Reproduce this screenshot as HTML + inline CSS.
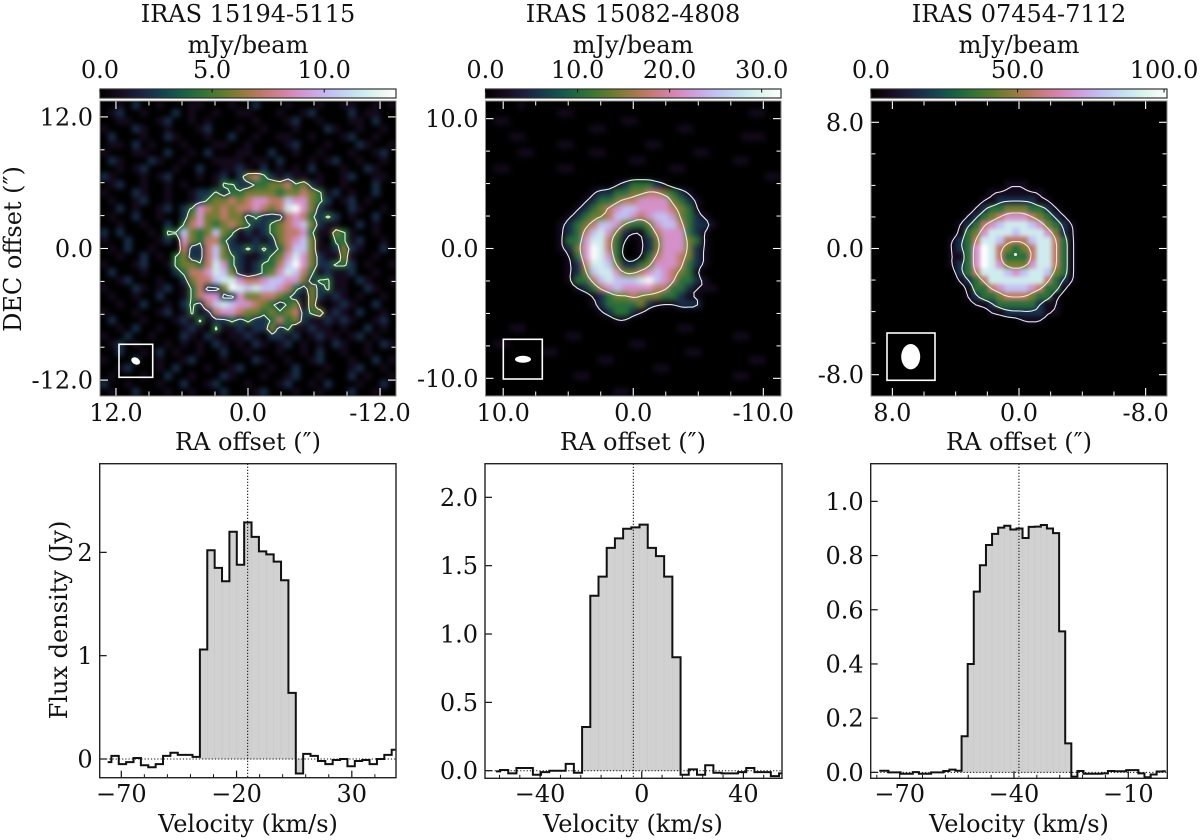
<!DOCTYPE html>
<html lang="en">
<head>
<meta charset="utf-8">
<title>IRAS ring maps and spectra</title>
<style>
html,body{margin:0;padding:0;background:#fff;width:1200px;height:840px;overflow:hidden}
svg{display:block}
text{font-family:"DejaVu Serif","Liberation Serif",serif;font-size:24px;fill:#111}
</style>
</head>
<body>
<svg id="fig" xmlns="http://www.w3.org/2000/svg" width="1200" height="840" viewBox="0 0 1200 840">
<defs>
<linearGradient id="helixGradient" x1="0" x2="1" y1="0" y2="0"></linearGradient>
<filter id="soften1" x="-5%" y="-5%" width="110%" height="110%" color-interpolation-filters="sRGB"><feGaussianBlur stdDeviation="2.6"/></filter>
<filter id="soften2" x="-5%" y="-5%" width="110%" height="110%" color-interpolation-filters="sRGB"><feGaussianBlur stdDeviation="3"/></filter>
<filter id="soften3" x="-5%" y="-5%" width="110%" height="110%" color-interpolation-filters="sRGB"><feGaussianBlur stdDeviation="2.1"/></filter>
</defs>
<rect width="1200" height="840" fill="#fff"/>
<text x="248" y="22" text-anchor="middle">IRAS 15194-5115</text>
<text x="633" y="22" text-anchor="middle">IRAS 15082-4808</text>
<text x="1019" y="22" text-anchor="middle">IRAS 07454-7112</text>
<text x="248" y="53" text-anchor="middle">mJy/beam</text>
<text x="633" y="53" text-anchor="middle">mJy/beam</text>
<text x="1019" y="53" text-anchor="middle">mJy/beam</text>
<text transform="translate(21,249) rotate(-90)" text-anchor="middle">DEC offset (″)</text>
<text x="248" y="450" text-anchor="middle">RA offset (″)</text>
<text x="633" y="450" text-anchor="middle">RA offset (″)</text>
<text x="1019" y="450" text-anchor="middle">RA offset (″)</text>
<text transform="translate(67,620) rotate(-90)" text-anchor="middle">Flux density (Jy)</text>
<text x="248" y="832" text-anchor="middle">Velocity (km/s)</text>
<text x="633" y="832" text-anchor="middle">Velocity (km/s)</text>
<text x="1019" y="832" text-anchor="middle">Velocity (km/s)</text>
<g id="layer"></g>
</svg>
<script>
// ---------- map data: brightness, one digit per cell (0 black .. 9 white) ----------
const heat1Rows = [
"0010200100011000100200010001001100101",
"0120010002010010011000100120000201100",
"0011000120010100000100012001000110200",
"1000210010001200010010001000210010010",
"0200010021000100200100110010001200100",
"0110201000100011001000012000100021001",
"1000110020010200011002001001000100120",
"0210002100100011110110200010120010010",
"0010120001002001121020101020001002100",
"2100010120001012024532121101001200110",
"0120010010100013322334453421001000200",
"1000210010012232334444344543120100200",
"0100120010012344545665576643201201000",
"0020100120236545455654589642100210010",
"0100200100246445442322256532320100200",
"0010010020356434543223456742110020100",
"2020001033743474312123455631143100100",
"1002000120643553211212456741033120010",
"0102001000522574223232357741124210020",
"0010020103422574321123468642114100100",
"1000120013443586321233579642233201001",
"0200010002355687421234687531211200100",
"0012000100245578865567766423311021001",
"1000210120135224987877653242311002100",
"0100100200135662264455432142121010010",
"0010020010232578766543234141012100200",
"1000100120131256654434345234121020010",
"0200010001213122323223534211212100120",
"0010200100121031121224231121101002010",
"1002001000210210112102212012110120100",
"0120100010101021010210120101021001021",
"0020010201001002001000100102001001000",
"1000200100120001000210010012000100201",
"0012000102000100120001002000100120010",
"0100010020010002100010012001000201001",
"2001000100200120001000120010200010020",
"0100200010010002000120001001000200100"
];
const heat2Rows = [
"0000100000000000000000000000000000000",
"0000000001100000000000000000000001100",
"0110000000000000011000000000000000000",
"0000000000000110000000001100000000000",
"0001100000000000000000000000000011100",
"0000000001100000000011000000000000000",
"0000110000000110000000000011000000000",
"0000000000000000001100000000000110000",
"0110000001100000000000011000000000000",
"0000000000000000000000000000000000011",
"0000000000000000123332100000000000000",
"0000000000000122334455432100000000000",
"0000000000001233455666643210000000000",
"0000000000012345677666654310000000000",
"0000000000123445776567764321000000000",
"0000000001234577643346775322100000000",
"0000000001235786421135666321000000000",
"0000000001336885310124666431000000000",
"0000000001246985300124666421000000000",
"0000000000136986300135665421000000000",
"0000000000125887422346665321000000000",
"0000000000124788644567654310000000000",
"0000000000133578777897653321000000000",
"0000000000012356766665533211100000000",
"0000000000000123445444332110000000000",
"0000000000000123333421112220000000000",
"0000000000000012332100000000000000000",
"0000000000000000110000000000000000000",
"0001100000000000000000001100000000000",
"0000000000110000000000000000000110000",
"0110000000000000001100000000000000000",
"0000000110000000000000000110000000000",
"0000000000000011000000000000000001100",
"0000000000000000000001100000000000000",
"0000000000011000000000000000000110000",
"0000000000000000000000000000000000000",
"0000000000000000110000000000000000000"
];
const heat3Rows = [
"0000000000000000000000000000000000000",
"0000000000000000000000000000000000000",
"0000000000000000000000000000000000000",
"0000000000000000000000000000000000000",
"0000000000000000000000000000000000000",
"0000000000000000000000000000000000000",
"0000000000000000000000000000000000000",
"0000000000000000000000000000000000000",
"0000000000000000000000000000000000000",
"0000000000000000000000000000000000000",
"0000000000000000011100000000000000000",
"0000000000000001111111000000000000000",
"0000000000000011222221100000000000000",
"0000000000000123344433210000000000000",
"0000000000001234566654321000000000000",
"0000000000012356788876432100000000000",
"0000000000013468887888642100000000000",
"0000000000123588755578853100000000000",
"0000000000123698543458853100000000000",
"0000000000113698533358853100000000000",
"0000000000123698644468853100000000000",
"0000000000023588876788743100000000000",
"0000000000012358888888532100000000000",
"0000000000001335677765331000000000000",
"0000000000001233455543310000000000000",
"0000000000000112333332110000000000000",
"0000000000000001122222110000000000000",
"0000000000000000000111000000000000000",
"0000000000000000000000000000000000000",
"0000000000000000000000000000000000000",
"0000000000000000000000000000000000000",
"0000000000000000000000000000000000000",
"0000000000000000000000000000000000000",
"0000000000000000000000000000000000000",
"0000000000000000000000000000000000000",
"0000000000000000000000000000000000000",
"0000000000000000000000000000000000000"
];
const digitIntensity = [0, 0.06, 0.17, 0.33, 0.44, 0.55, 0.67, 0.78, 0.89, 1];
const contour1Levels = [2.75];
const contour2Levels = [1.2, 4.5];
const contour3Levels = [0.9, 2.2, 5];
const contour1Colors = ["#e6f2e2"];
const contour2Colors = ["#e8e8f2", "#ecefc8"];
const contour3Colors = ["#e6e2ee", "#e8ecf4", "#f6e6c4"];

// map axes
const map1XLim = [13.45, -13.45];
const map2XLim = [11.36, -11.36];
const map3XLim = [9.35, -9.35];
const map1Major = [12, 0, -12];
const map1Minor = [9, 6, 3, -3, -6, -9];
const map1XLabels = ["12.0", "0.0", "-12.0"];
const map1YLabels = ["12.0", "0.0", "-12.0"];
const map2Major = [10, 0, -10];
const map2Minor = [7.5, 5, 2.5, -2.5, -5, -7.5];
const map2XLabels = ["10.0", "0.0", "-10.0"];
const map2YLabels = ["10.0", "0.0", "-10.0"];
const map3Major = [8, 0, -8];
const map3Minor = [6, 4, 2, -2, -4, -6];
const map3XLabels = ["8.0", "0.0", "-8.0"];
const map3YLabels = ["8.0", "0.0", "-8.0"];

// colorbars
const bar1Max = 13.2;
const bar2Max = 32.1;
const bar3Max = 101;
const bar1Ticks = [0, 5, 10];
const bar2Ticks = [0, 10, 20, 30];
const bar3Ticks = [0, 50, 100];
const bar1Labels = ["0.0", "5.0", "10.0"];
const bar2Labels = ["0.0", "10.0", "20.0", "30.0"];
const bar3Labels = ["0.0", "50.0", "100.0"];

// ---------- spectra ----------
const spec1Flux = [-0.03,0.03,-0.05,-0.03,0.01,-0.06,-0.08,-0.05,0.03,0.06,0.04,0.04,0.02,1.06,2.02,1.85,1.72,2.2,1.88,2.29,2.15,2.01,1.98,1.91,1.73,0.64,-0.14,0.05,0.03,-0.02,-0.05,-0.01,0,-0.07,-0.02,-0.01,-0.05,0,0.04,0.09];
const spec2Flux = [-0.005,0.005,-0.02,0.02,0.02,-0.03,-0.01,0,0,0.05,-0.015,0.32,1.28,1.42,1.63,1.70,1.77,1.78,1.80,1.63,1.57,1.42,0.83,-0.03,0.01,-0.03,0.04,-0.015,-0.02,-0.02,-0.01,0.02,-0.01,-0.01,-0.04,-0.02];
const spec3Flux = [0.006,0.006,0,0,-0.005,-0.005,0.001,-0.005,-0.005,0,0,0.005,0.01,0.006,0.133,0.40,0.667,0.764,0.839,0.88,0.903,0.91,0.896,0.90,0.865,0.906,0.907,0.913,0.90,0.883,0.52,0.107,-0.016,0.005,-0.005,-0.005,-0.005,-0.004,0.005,0.004,0.004,0.008,0.008,-0.004,-0.018,-0.008,0.003,0.004];
const spec1VelStart = -75.9, spec1VelStep = 3.2;
const spec2VelStart = -57.4, spec2VelStep = 3.23;
const spec3VelStart = -75.35, spec3VelStep = 1.6;
const spec1FillFrom = 13, spec1FillTo = 26;
const spec2FillFrom = 11, spec2FillTo = 22;
const spec3FillFrom = 14, spec3FillTo = 31;
const spec1SystemicVel = -15.2;
const spec2SystemicVel = -3.3;
const spec3SystemicVel = -38.7;
const spec1XLim = [-79.37, 49.17], spec1YLim = [-0.181, 2.858];
const spec2XLim = [-61.7, 55.2], spec2YLim = [-0.0556, 2.246];
const spec3XLim = [-77.6, 0.24], spec3YLim = [-0.022, 1.139];
const spec1XMajor = [-70, -20, 30];
const spec1XLabels = ["\u221270", "\u221220", "30"];
const spec1XMinor = [-60,-50,-40,-30,-10,0,10,20,40];
const spec1YTicks = [0, 1, 2];
const spec1YLabels = ["0", "1", "2"];
const spec2XMajor = [-40, 0, 40];
const spec2XLabels = ["\u221240", "0", "40"];
const spec2XMinor = [-56,-48,-32,-24,-16,-8,8,16,24,32,48];
const spec2YTicks = [0, 0.5, 1, 1.5, 2];
const spec2YLabels = ["0.0", "0.5", "1.0", "1.5", "2.0"];
const spec3XMajor = [-70, -40, -10];
const spec3XLabels = ["\u221270", "\u221240", "\u221210"];
const spec3XMinor = [-76,-64,-58,-52,-46,-34,-28,-22,-16,-4];
const spec3YTicks = [0, 0.2, 0.4, 0.6, 0.8, 1];
const spec3YLabels = ["0.0", "0.2", "0.4", "0.6", "0.8", "1.0"];

// ---------- helpers ----------
const NS = "http://www.w3.org/2000/svg";
const layer = document.getElementById("layer");
function mk(tag, parent) { const e = document.createElementNS(NS, tag); (parent || layer).appendChild(e); return e; }
function linear(d0, d1, r0, r1) { return v => r0 + (v - d0) / (d1 - d0) * (r1 - r0); }
function helix(t) {
  const a = 0.5 * t * (1 - t), phi = 2 * Math.PI * (0.5 / 3 - 1.5 * t), c = Math.cos(phi), s = Math.sin(phi);
  const ch = x => Math.round(255 * Math.min(1, Math.max(0, x)));
  return "rgb(" + ch(t + a * (-0.14861 * c + 1.78277 * s)) + "," + ch(t + a * (-0.29227 * c - 0.90649 * s)) + "," + ch(t + a * 1.97294 * c) + ")";
}
const grad = document.getElementById("helixGradient");
for (let i = 0; i <= 48; i++) {
  const st = document.createElementNS(NS, "stop");
  st.setAttribute("offset", (i / 48).toFixed(4));
  st.setAttribute("stop-color", helix(i / 48));
  grad.appendChild(st);
}
function digit(rows, r, c) { const v = rows[r].charCodeAt(c) - 48; return v >= 0 && v <= 9 ? v : 0; }

function refineGrid(rows, smooth) {
  // bilinear upsample x2, optionally followed by a box smooth so contours read as curves
  const R = rows.length, C = rows[0].length, up = [];
  for (let r = 0; r < 2 * R - 1; r++) {
    const line = [];
    for (let c = 0; c < 2 * C - 1; c++) {
      const r0 = r >> 1, r1 = (r + 1) >> 1, c0 = c >> 1, c1 = (c + 1) >> 1;
      line.push((digit(rows, r0, c0) + digit(rows, r0, c1) + digit(rows, r1, c0) + digit(rows, r1, c1)) / 4);
    }
    up.push(line);
  }
  if (!smooth) return up;
  return up.map((line, r) => line.map((_, c) => {
    let s = 0, n = 0;
    for (let dr = -1; dr <= 1; dr++) for (let dc = -1; dc <= 1; dc++) {
      const row = up[r + dr];
      if (row && row[c + dc] !== undefined) { s += row[c + dc]; n++; }
    }
    return s / n;
  }));
}
function contourPath(g, level, x0, y0, step) {
  let d = "";
  const P = (r, c) => (x0 + c * step).toFixed(1) + " " + (y0 + r * step).toFixed(1);
  for (let r = 0; r < g.length - 1; r++) for (let c = 0; c < g[0].length - 1; c++) {
    const a = g[r][c], b = g[r][c + 1], e = g[r + 1][c + 1], f = g[r + 1][c];
    const idx = (a > level ? 1 : 0) | (b > level ? 2 : 0) | (e > level ? 4 : 0) | (f > level ? 8 : 0);
    if (idx === 0 || idx === 15) continue;
    const T = P(r, c + (level - a) / (b - a)), Ri = P(r + (level - b) / (e - b), c + 1),
          Bo = P(r + 1, c + (level - f) / (e - f)), L = P(r + (level - a) / (f - a), c);
    const seg = { 1: [L, T], 2: [T, Ri], 3: [L, Ri], 4: [Ri, Bo], 6: [T, Bo], 7: [L, Bo], 8: [L, Bo], 9: [T, Bo], 11: [Ri, Bo], 12: [L, Ri], 13: [T, Ri], 14: [L, T] }[idx];
    if (seg) d += "M" + seg[0] + "L" + seg[1];
    if (idx === 5) d += "M" + L + "L" + Bo + "M" + T + "L" + Ri;
    if (idx === 10) d += "M" + L + "L" + T + "M" + Ri + "L" + Bo;
  }
  return d;
}
let clipCount = 0;
function clipFor(x, y, w, h) {
  const defs = document.querySelector("defs"), cp = document.createElementNS(NS, "clipPath"), id = "clip" + (clipCount++);
  cp.setAttribute("id", id);
  const rc = document.createElementNS(NS, "rect");
  rc.setAttribute("x", x); rc.setAttribute("y", y); rc.setAttribute("width", w); rc.setAttribute("height", h);
  cp.appendChild(rc); defs.appendChild(cp);
  return "url(#" + id + ")";
}
function tickLine(x1, y1, x2, y2, col, w) {
  const t = mk("line");
  t.setAttribute("x1", x1); t.setAttribute("y1", y1); t.setAttribute("x2", x2); t.setAttribute("y2", y2);
  t.setAttribute("stroke", col); t.setAttribute("stroke-width", w);
  
  
}
function label(x, y, str, anchor) {
  const t = mk("text");
  t.setAttribute("x", x); t.setAttribute("y", y); t.setAttribute("text-anchor", anchor);
  t.textContent = str;
  
  
}

// ---------- map panel ----------
function drawMap(box, rows, lim, major, minor, xLabels, yLabels, levels, colors, inset, beam, barMax, barTicks, barLabels) {
  const X = linear(lim[0], lim[1], box.x, box.x + box.w), Y = linear(lim[0], lim[1], box.y, box.y + box.h);
  const outer = mk("g");
  outer.setAttribute("clip-path", clipFor(box.x, box.y, box.w, box.h));
  
  
  const bg = mk("rect", outer);
  bg.setAttribute("x", box.x); bg.setAttribute("y", box.y); bg.setAttribute("width", box.w); bg.setAttribute("height", box.h);
  bg.setAttribute("fill", "#000");
  
  
  const cells = mk("g", outer);
  cells.setAttribute("filter", "url(#" + box.blur + ")");
  
  
  const R = rows.length, C = rows[0].length, cw = box.w / C, ch = box.h / R;
  for (let r = 0; r < R; r++) for (let c = 0; c < C; c++) {
    const cell = mk("rect", cells);
    cell.setAttribute("x", (box.x + box.shift + c * cw).toFixed(2));
    cell.setAttribute("y", (box.y + r * ch).toFixed(2));
    cell.setAttribute("width", (cw + 0.4).toFixed(2));
    cell.setAttribute("height", (ch + 0.4).toFixed(2));
    cell.setAttribute("fill", helix(digitIntensity[digit(rows, r, c)]));
    
    
  }
  const fine = refineGrid(rows, box.smooth);
  levels.forEach((lv, i) => {
    const p = mk("path", outer);
    p.setAttribute("d", contourPath(fine, lv, box.x + box.shift + cw / 2, box.y + ch / 2, cw / 2));
    p.setAttribute("fill", "none");
    p.setAttribute("stroke", colors[i]);
    p.setAttribute("stroke-width", "1.1");
    p.setAttribute("stroke-linecap", "round");
    
    
  });
  // ticks on all four sides
  const xb = box.x + box.w, yb = box.y + box.h;
  major.forEach(v => {
    tickLine(X(v), box.y, X(v), box.y + 8, "#fff", 1.1); tickLine(X(v), yb, X(v), yb - 8, "#fff", 1.1);
    tickLine(box.x, Y(v), box.x + 8, Y(v), "#fff", 1.1); tickLine(xb, Y(v), xb - 8, Y(v), "#fff", 1.1);
  });
  minor.forEach(v => {
    tickLine(X(v), box.y, X(v), box.y + 4.5, "#fff", 1); tickLine(X(v), yb, X(v), yb - 4.5, "#fff", 1);
    tickLine(box.x, Y(v), box.x + 4.5, Y(v), "#fff", 1); tickLine(xb, Y(v), xb - 4.5, Y(v), "#fff", 1);
  });
  const frame = mk("rect");
  frame.setAttribute("x", box.x); frame.setAttribute("y", box.y); frame.setAttribute("width", box.w); frame.setAttribute("height", box.h);
  frame.setAttribute("fill", "none"); frame.setAttribute("stroke", "#888"); frame.setAttribute("stroke-width", "1");
  
  
  major.forEach((v, i) => {
    label(X(v), 421, xLabels[i], "middle");
    label(box.x - 7, Y(v) + 8.5, yLabels[i], "end");
  });
  // beam inset
  const ib = mk("rect");
  ib.setAttribute("x", inset[0]); ib.setAttribute("y", inset[1]); ib.setAttribute("width", inset[2]); ib.setAttribute("height", inset[3]);
  ib.setAttribute("fill", "none"); ib.setAttribute("stroke", "#fff"); ib.setAttribute("stroke-width", "1.6");
  
  
  const be = mk("ellipse");
  be.setAttribute("cx", 0); be.setAttribute("cy", 0); be.setAttribute("rx", beam[2]); be.setAttribute("ry", beam[3]);
  be.setAttribute("transform", "translate(" + beam[0] + "," + beam[1] + ") rotate(" + beam[4] + ")");
  be.setAttribute("fill", "#fff");
  
  
  // colorbar
  const BX = linear(0, barMax, box.x, box.x + box.w);
  const cb = mk("rect");
  cb.setAttribute("x", box.x); cb.setAttribute("y", 89); cb.setAttribute("width", box.w); cb.setAttribute("height", 9);
  cb.setAttribute("fill", "url(#helixGradient)"); cb.setAttribute("stroke", "#333"); cb.setAttribute("stroke-width", "1.2");
  
  
  barTicks.forEach((v, i) => {
    tickLine(BX(v), 89, BX(v), 92.5, "#111", 1);
    label(BX(v), 78, barLabels[i], "middle");
  });
}

// ---------- spectrum panel ----------
function drawSpectrum(box, flux, vStart, vStep, fillFrom, fillTo, sysVel, xLim, yLim, xMajor, xLabels, xMinor, yTicks, yLabels) {
  const X = linear(xLim[0], xLim[1], box.x, box.x + box.w), Y = linear(yLim[0], yLim[1], box.y + box.h, box.y);
  const centre = i => X(vStart + i * vStep), edge = i => (centre(i - 1) + centre(i)) / 2;
  const plot = mk("g");
  plot.setAttribute("clip-path", clipFor(box.x, box.y, box.w, box.h));
  
  
  for (let i = fillFrom; i <= fillTo; i++) {
    const bar = mk("rect", plot), top = Math.min(Y(flux[i]), Y(0));
    bar.setAttribute("x", edge(i).toFixed(2));
    bar.setAttribute("y", top.toFixed(2));
    bar.setAttribute("width", (edge(i + 1) - edge(i)).toFixed(2));
    bar.setAttribute("height", Math.abs(Y(flux[i]) - Y(0)).toFixed(2));
    bar.setAttribute("fill", "#d1d1d1");
    bar.setAttribute("stroke", "#c8c8c8");
    bar.setAttribute("stroke-width", "0.5");
    
    
  }
  let d = "M" + centre(0).toFixed(2) + " " + Y(flux[0]).toFixed(2);
  for (let i = 1; i < flux.length; i++) d += "H" + edge(i).toFixed(2) + "V" + Y(flux[i]).toFixed(2);
  d += "H" + centre(flux.length - 1).toFixed(2);
  const zero = mk("line", plot);
  zero.setAttribute("x1", box.x); zero.setAttribute("x2", box.x + box.w); zero.setAttribute("y1", Y(0)); zero.setAttribute("y2", Y(0));
  zero.setAttribute("stroke", "#111"); zero.setAttribute("stroke-width", "1"); zero.setAttribute("stroke-dasharray", "1.2 2");
  
  
  const step = mk("path", plot);
  step.setAttribute("d", d); step.setAttribute("fill", "none"); step.setAttribute("stroke", "#111"); step.setAttribute("stroke-width", "2");
  
  
  const sys = mk("line", plot);
  sys.setAttribute("x1", X(sysVel)); sys.setAttribute("x2", X(sysVel)); sys.setAttribute("y1", box.y); sys.setAttribute("y2", box.y + box.h);
  sys.setAttribute("stroke", "#111"); sys.setAttribute("stroke-width", "1.2"); sys.setAttribute("stroke-dasharray", "1.2 1.8");
  
  
  const yb = box.y + box.h;
  xMajor.forEach((v, i) => { tickLine(X(v), yb, X(v), yb - 7, "#111", 1.2); label(X(v), 802, xLabels[i], "middle"); });
  xMinor.forEach(v => tickLine(X(v), yb, X(v), yb - 3.5, "#111", 1));
  yTicks.forEach((v, i) => { tickLine(box.x, Y(v), box.x + 7, Y(v), "#111", 1.2); label(box.x - 7, Y(v) + 8.5, yLabels[i], "end"); });
  const frame = mk("rect");
  frame.setAttribute("x", box.x); frame.setAttribute("y", box.y); frame.setAttribute("width", box.w); frame.setAttribute("height", box.h);
  frame.setAttribute("fill", "none"); frame.setAttribute("stroke", "#222"); frame.setAttribute("stroke-width", "1.4");
  
  
}

const mapBox1 = { x: 100, y: 101, w: 296, h: 295, blur: "soften1", shift: 0, smooth: false };
const mapBox2 = { x: 485.5, y: 101, w: 295.5, h: 295, blur: "soften2", shift: 0, smooth: true };
const mapBox3 = { x: 871, y: 101, w: 296, h: 295, blur: "soften3", shift: -3, smooth: true };
drawMap(mapBox1, heat1Rows, map1XLim, map1Major, map1Minor, map1XLabels, map1YLabels, contour1Levels, contour1Colors, [119, 344.3, 33.7, 33], [135.7, 361, 4.7, 3.3, 30], bar1Max, bar1Ticks, bar1Labels);
drawMap(mapBox2, heat2Rows, map2XLim, map2Major, map2Minor, map2XLabels, map2YLabels, contour2Levels, contour2Colors, [503.3, 339.3, 39, 39.7], [523, 359.3, 8, 3.5, 0], bar2Max, bar2Ticks, bar2Labels);
drawMap(mapBox3, heat3Rows, map3XLim, map3Major, map3Minor, map3XLabels, map3YLabels, contour3Levels, contour3Colors, [887, 333, 48, 47.3], [910.7, 356.7, 9.5, 12.7, 0], bar3Max, bar3Ticks, bar3Labels);

const peak = mk("circle");
peak.setAttribute("cx", 1015.5); peak.setAttribute("cy", 254.5); peak.setAttribute("r", 1.5); peak.setAttribute("fill", "#fff");



const specBox1 = { x: 99.7, y: 463.7, w: 296.3, h: 314 };
const specBox2 = { x: 485, y: 463.7, w: 297, h: 314.6 };
const specBox3 = { x: 870.7, y: 463.7, w: 296.6, h: 314.6 };
drawSpectrum(specBox1, spec1Flux, spec1VelStart, spec1VelStep, spec1FillFrom, spec1FillTo, spec1SystemicVel, spec1XLim, spec1YLim, spec1XMajor, spec1XLabels, spec1XMinor, spec1YTicks, spec1YLabels);
drawSpectrum(specBox2, spec2Flux, spec2VelStart, spec2VelStep, spec2FillFrom, spec2FillTo, spec2SystemicVel, spec2XLim, spec2YLim, spec2XMajor, spec2XLabels, spec2XMinor, spec2YTicks, spec2YLabels);
drawSpectrum(specBox3, spec3Flux, spec3VelStart, spec3VelStep, spec3FillFrom, spec3FillTo, spec3SystemicVel, spec3XLim, spec3YLim, spec3XMajor, spec3XLabels, spec3XMinor, spec3YTicks, spec3YLabels);
</script>
</body>
</html>
